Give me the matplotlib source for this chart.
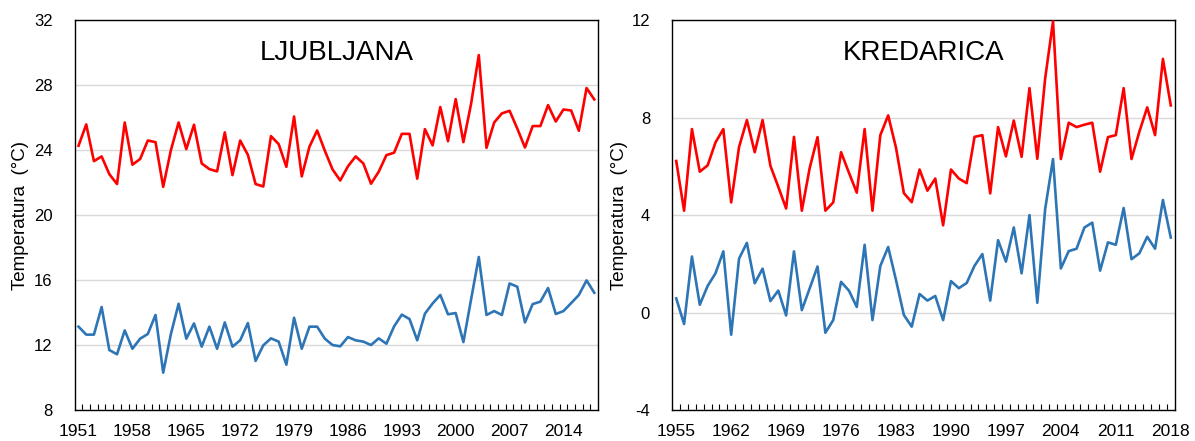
import numpy as np
import matplotlib
matplotlib.use("Agg")
import matplotlib.pyplot as plt
from matplotlib.ticker import FixedLocator

plt.rcParams['font.family'] = ['Liberation Sans', 'DejaVu Sans']

# Ljubljana, 1951-2018
lj_years = list(range(1951, 2019))
lj_max = [24.27, 25.58, 23.32, 23.61, 22.52, 21.91, 25.70, 23.10, 23.45, 24.59,
          24.49, 21.74, 24.00, 25.70, 24.06, 25.56, 23.18, 22.83, 22.69, 25.09,
          22.46, 24.59, 23.71, 21.91, 21.76, 24.86, 24.37, 22.97, 26.07, 22.38,
          24.21, 25.21, 23.96, 22.81, 22.13, 23.00, 23.61, 23.18, 21.93, 22.67,
          23.69, 23.84, 25.00, 25.00, 22.24, 25.29, 24.29, 26.65, 24.55, 27.14,
          24.49, 26.85, 29.85, 24.14, 25.70, 26.26, 26.42, 25.33, 24.16, 25.48,
          25.48, 26.77, 25.76, 26.50, 26.44, 25.19, 27.82, 27.12]
lj_min = [13.13, 12.64, 12.64, 14.34, 11.69, 11.43, 12.90, 11.77, 12.39, 12.68,
          13.85, 10.30, 12.68, 14.54, 12.39, 13.33, 11.90, 13.13, 11.77, 13.39,
          11.90, 12.29, 13.35, 11.02, 11.98, 12.41, 12.21, 10.79, 13.68, 11.77,
          13.13, 13.13, 12.39, 12.00, 11.92, 12.49, 12.29, 12.21, 12.00, 12.41,
          12.08, 13.15, 13.87, 13.60, 12.29, 13.93, 14.56, 15.08, 13.89, 13.97,
          12.18, 14.81, 17.42, 13.85, 14.09, 13.85, 15.79, 15.59, 13.39, 14.52,
          14.67, 15.51, 13.91, 14.09, 14.58, 15.08, 15.98, 15.22]

# Kredarica, 1955-2018
kr_years = list(range(1955, 2019))
kr_max = [6.22, 4.18, 7.53, 5.78, 6.04, 6.98, 7.53, 4.52, 6.79, 7.90,
          6.58, 7.90, 6.02, 5.16, 4.27, 7.21, 4.18, 5.93, 7.20, 4.18,
          4.52, 6.58, 5.74, 4.92, 7.53, 4.18, 7.28, 8.09, 6.76, 4.90,
          4.53, 5.87, 5.00, 5.50, 3.58, 5.87, 5.50, 5.31, 7.21, 7.28,
          4.89, 7.61, 6.41, 7.88, 6.39, 9.21, 6.31, 9.61, 11.95, 6.30,
          7.79, 7.61, 7.71, 7.79, 5.78, 7.20, 7.28, 9.21, 6.30, 7.42,
          8.42, 7.28, 10.41, 8.50]
kr_min = [0.58, -0.47, 2.30, 0.32, 1.09, 1.61, 2.51, -0.91, 2.21, 2.86,
          1.20, 1.80, 0.47, 0.90, -0.12, 2.51, 0.10, 0.99, 1.89, -0.83,
          -0.31, 1.26, 0.90, 0.23, 2.78, -0.31, 1.91, 2.69, 1.33, -0.10,
          -0.58, 0.76, 0.49, 0.68, -0.31, 1.29, 1.00, 1.21, 1.92, 2.40,
          0.49, 2.97, 2.09, 3.49, 1.61, 4.00, 0.40, 4.25, 6.30, 1.81,
          2.52, 2.62, 3.49, 3.69, 1.72, 2.88, 2.78, 4.29, 2.19, 2.43,
          3.11, 2.62, 4.62, 3.08]

RED = "#ff0000"
BLUE = "#2e75b6"

fig = plt.figure(figsize=(11.95, 4.41), dpi=100)
ax1 = fig.add_axes([0.0625, 0.0703, 0.438, 0.884])
ax2 = fig.add_axes([0.5626, 0.0703, 0.4204, 0.884])


def panel(ax, years, tmax, tmin, title, yticks):
    ax.plot(years, tmax, color=RED, lw=1.9, zorder=3, clip_on=False)
    ax.plot(years, tmin, color=BLUE, lw=1.9, zorder=3, clip_on=False)
    ax.set_xlim(years[0] - 0.5, years[-1] + 0.5)
    ax.set_ylim(yticks[0], yticks[-1])
    ax.set_yticks(yticks)
    ax.set_yticklabels([str(v) for v in yticks], fontsize=12)
    ax.yaxis.grid(True, color="#d9d9d9", lw=1)
    ax.set_axisbelow(True)
    ax.tick_params(axis="y", length=0, pad=16)
    ax.set_xticks(years[::7])
    ax.set_xticklabels([str(y) for y in years[::7]], fontsize=12.5)
    ax.xaxis.set_minor_locator(FixedLocator(np.arange(years[0] + 0.5, years[-1], 1)))
    ax.tick_params(axis="x", which="major", length=0, pad=10)
    ax.tick_params(axis="x", which="minor", direction="in", length=4, width=0.8)
    for s in ax.spines.values():
        s.set_color("black")
        s.set_linewidth(1.0)
    ax.set_ylabel("Temperatura  (°C)", fontsize=13.5)
    ax.text(0.5, 0.917, title, transform=ax.transAxes, fontsize=20,
            ha="center", va="center")


panel(ax1, lj_years, lj_max, lj_min, "LJUBLJANA", [8, 12, 16, 20, 24, 28, 32])
panel(ax2, kr_years, kr_max, kr_min, "KREDARICA", [-4, 0, 4, 8, 12])
ax1.yaxis.set_label_coords(-0.087, 0.5)
ax2.yaxis.set_label_coords(-0.088, 0.5)

fig.savefig("out.png", dpi=100)
